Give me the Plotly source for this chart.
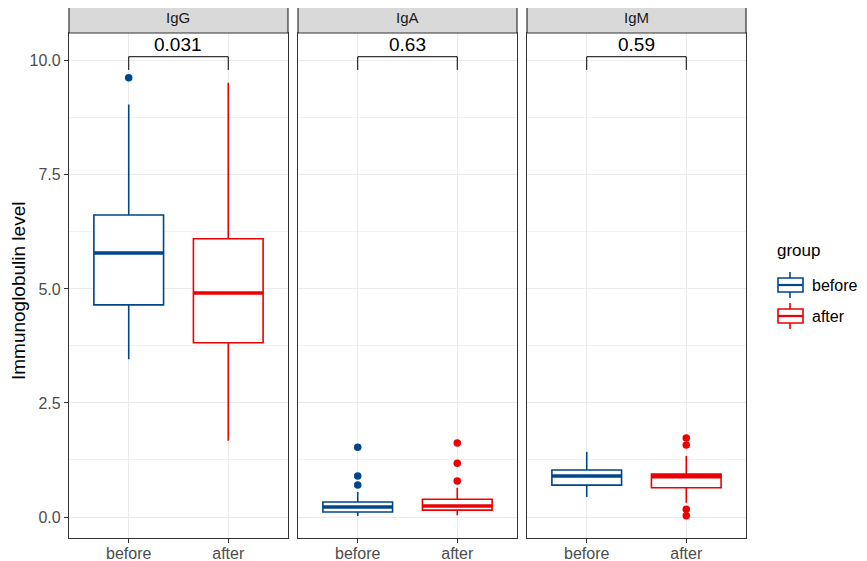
import plotly.graph_objects as go
from plotly.subplots import make_subplots

# panels / groups
panels = ["IgG", "IgA", "IgM"]
groups = ["before", "after"]
colors = {"before": "#00468B", "after": "#ED0000"}

# box stats (one value per panel)
lower_before = [3.46, 0.02, 0.44]
q1_before = [4.65, 0.11, 0.70]
median_before = [5.79, 0.22, 0.90]
q3_before = [6.62, 0.33, 1.03]
upper_before = [9.04, 0.55, 1.43]
outliers_before = [[9.63], [1.53, 0.90, 0.70], []]

lower_after = [1.67, 0.04, 0.31]
q1_after = [3.82, 0.15, 0.64]
median_after = [4.91, 0.24, 0.88]
q3_after = [6.10, 0.39, 0.94]
upper_after = [9.52, 0.64, 1.34]
outliers_after = [[], [1.62, 1.18, 0.79], [1.73, 1.58, 0.17, 0.03]]

# comparison brackets (wilcoxon p-values)
p_values = ["0.031", "0.63", "0.59"]
bracket_top = 10.09
bracket_foot = 9.80
label_y = 10.35

stats = {
    "before": (lower_before, q1_before, median_before, q3_before, upper_before, outliers_before),
    "after": (lower_after, q1_after, median_after, q3_after, upper_after, outliers_after),
}

BOX_W = 0.7
GRID = "#EBEBEB"
BORDER = "#333333"
PLOT_H = 505  # plot area height in px
PLOT_W = 677
PAD = 8  # page body margin added by the browser


def px_x(px):
    # screen px -> paper x
    return (px - 69) / PLOT_W


def px_y(py):
    # screen px -> paper y
    return (538 - py) / PLOT_H


fig = make_subplots(rows=1, cols=3, shared_yaxes=True, horizontal_spacing=0.0148)

for p, panel in enumerate(panels):
    col = p + 1
    for g, grp in enumerate(groups):
        xpos = g + 1
        lo, q1, med, q3, up, outs = stats[grp]
        c = colors[grp]
        fig.add_trace(go.Box(
            x=[xpos], q1=[q1[p]], median=[med[p]], q3=[q3[p]],
            lowerfence=[lo[p]], upperfence=[up[p]],
            name=grp, showlegend=False,
            width=BOX_W, whiskerwidth=0, fillcolor="white",
            line=dict(color=c, width=1.6), boxpoints=False,
        ), row=1, col=col)
        # thick median like ggplot
        fig.add_trace(go.Scatter(
            x=[xpos - BOX_W / 2, xpos + BOX_W / 2], y=[med[p], med[p]],
            mode="lines", line=dict(color=c, width=3.5),
            showlegend=False, hoverinfo="skip",
        ), row=1, col=col)
        if outs[p]:
            fig.add_trace(go.Scatter(
                x=[xpos] * len(outs[p]), y=outs[p], mode="markers",
                marker=dict(color=c, size=7.5), showlegend=False,
            ), row=1, col=col)

    # bracket + p label
    fig.add_trace(go.Scatter(
        x=[1, 1, 2, 2], y=[bracket_foot, bracket_top, bracket_top, bracket_foot],
        mode="lines", line=dict(color="black", width=1),
        showlegend=False, hoverinfo="skip",
    ), row=1, col=col)
    fig.add_annotation(x=1.5, y=label_y, text=p_values[p], showarrow=False,
                       font=dict(size=19, color="black"), yanchor="middle", row=1, col=col)

    # facet strip
    xr = "x domain" if col == 1 else f"x{col} domain"
    fig.add_shape(type="rect", xref=xr, yref="paper", x0=0, x1=1, y0=1, y1=1 + 31 / PLOT_H,
                  fillcolor="#D9D9D9", line=dict(color=BORDER, width=1.2))
    fig.add_annotation(xref=xr, yref="paper", x=0.5, y=1 + 15.5 / PLOT_H, text=panel,
                       showarrow=False, xanchor="center", yanchor="middle",
                       font=dict(size=15, color="#1A1A1A"))

    fig.update_xaxes(range=[0.4, 2.6], tickvals=[1, 2], ticktext=groups,
                     showgrid=True, gridcolor=GRID, gridwidth=1.1, zeroline=False,
                     showline=True, mirror=True, linecolor=BORDER, linewidth=1.2,
                     ticks="outside", ticklen=4, tickcolor=BORDER, automargin=False,
                     ticklabelstandoff=-3,
                     tickfont=dict(size=16, color="#4D4D4D"), row=1, col=col)
    fig.update_yaxes(range=[-0.46, 10.61], tickvals=[0, 2.5, 5, 7.5, 10],
                     ticktext=["0.0", "2.5", "5.0", "7.5", "10.0"],
                     showgrid=True, gridcolor=GRID, gridwidth=1.1, zeroline=False,
                     minor=dict(tickvals=[1.25, 3.75, 6.25, 8.75], showgrid=True,
                                gridcolor="#F2F2F2", gridwidth=0.6),
                     showline=True, mirror=True, linecolor=BORDER, linewidth=1.2,
                     ticks="outside" if col == 1 else "", ticklen=4, tickcolor=BORDER,
                     tickfont=dict(size=16, color="#4D4D4D"), automargin=False,
                     showticklabels=(col == 1), row=1, col=col)

# y title as paper annotation so it sits at the far left
fig.add_annotation(xref="paper", yref="paper", x=px_x(18), y=0.489,
                   text="Immunoglobulin level", textangle=-90, showarrow=False,
                   xanchor="center", yanchor="middle",
                   font=dict(size=19, color="black"))

# ggplot-style legend: title + boxplot keys
fig.add_annotation(xref="paper", yref="paper", x=px_x(775), y=px_y(250),
                   text="group", showarrow=False, xanchor="left", yanchor="middle",
                   font=dict(size=17, color="black"))
key_centers = {"before": 285, "after": 316}
for grp in groups:
    c = colors[grp]
    yc = key_centers[grp]
    line = dict(color=c, width=1.6)
    fig.add_shape(type="line", xref="paper", yref="paper", x0=px_x(790), x1=px_x(790),
                  y0=px_y(yc - 13), y1=px_y(yc + 13), line=line)
    fig.add_shape(type="rect", xref="paper", yref="paper", x0=px_x(778), x1=px_x(803),
                  y0=px_y(yc - 7), y1=px_y(yc + 7), fillcolor="white", line=line)
    fig.add_shape(type="line", xref="paper", yref="paper", x0=px_x(778), x1=px_x(803),
                  y0=px_y(yc), y1=px_y(yc), line=dict(color=c, width=2.2))
    fig.add_annotation(xref="paper", yref="paper", x=px_x(810), y=px_y(yc),
                       text=grp, showarrow=False, xanchor="left", yanchor="middle",
                       font=dict(size=16, color="black"))

fig.update_layout(
    width=867 - PAD, height=561 - PAD,
    margin=dict(l=69 - PAD, r=121, t=33 - PAD, b=23),
    plot_bgcolor="white", paper_bgcolor="white",
    font=dict(family="Liberation Sans, Arial, sans-serif"),
    boxmode="overlay", showlegend=False,
)

fig.write_html("out.html")
